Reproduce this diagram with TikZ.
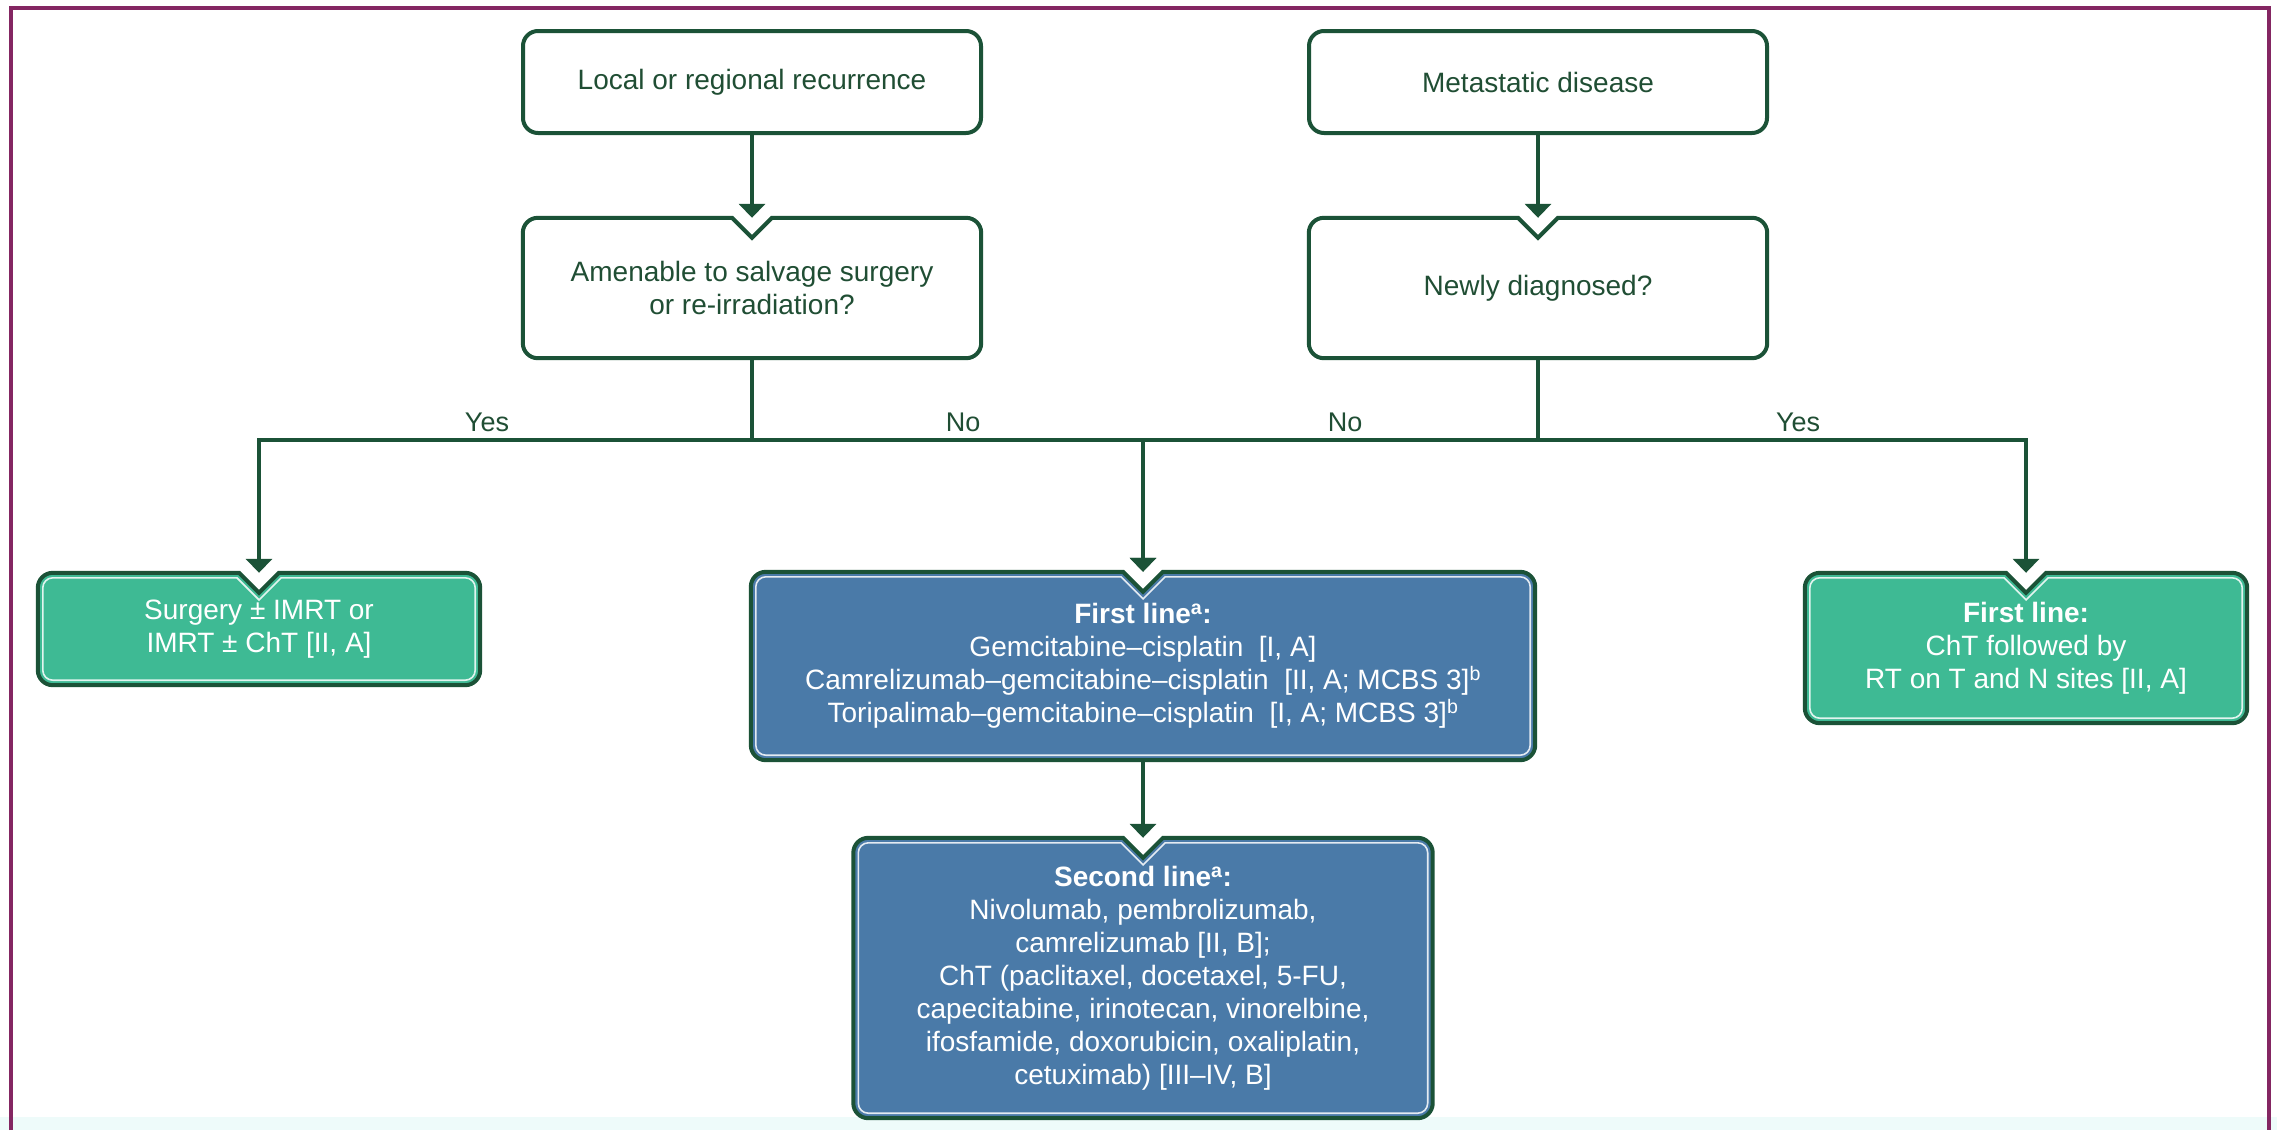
\documentclass[tikz,border=0pt]{standalone}
\usepackage{fontspec}
\setmainfont{Liberation Sans}
\usetikzlibrary{arrows.meta,calc}
\pgfdeclarelayer{background}
\pgfsetlayers{background,main}
\definecolor{dkgreen}{RGB}{27,82,55}
\definecolor{txtgreen}{RGB}{32,78,52}
\definecolor{tealbox}{RGB}{62,186,148}
\definecolor{bluebox}{RGB}{74,122,168}
\definecolor{framecol}{RGB}{132,38,98}
\definecolor{paleband}{RGB}{238,251,250}

% #1 node, #2 inset, #3 corner radius (numbers, in pt), #4 style
\newcommand\notchoutline[4]{%
  \path[#4] ([xshift={-(20+0.414*#2)*1pt},yshift={-#2*1pt}]#1.north)
    -- ([xshift={(#2+#3)*1pt},yshift={-#2*1pt}]#1.north west)
       arc[start angle=90,end angle=180,radius=#3pt]
    -- ([xshift={#2*1pt},yshift={(#2+#3)*1pt}]#1.south west)
       arc[start angle=180,end angle=270,radius=#3pt]
    -- ([xshift={-(#2+#3)*1pt},yshift={#2*1pt}]#1.south east)
       arc[start angle=270,end angle=360,radius=#3pt]
    -- ([xshift={-#2*1pt},yshift={-(#2+#3)*1pt}]#1.north east)
       arc[start angle=0,end angle=90,radius=#3pt]
    -- ([xshift={(20+0.414*#2)*1pt},yshift={-#2*1pt}]#1.north)
    -- ([yshift={-(20+1.414*#2)*1pt}]#1.north) -- cycle;}

\tikzset{
  tbox/.style={rectangle, inner sep=0pt, align=center, font=\fontsize{28}{33}\selectfont},
  plainbox/.style={tbox, draw=dkgreen, line width=4pt, rounded corners=15pt, fill=white, text=txtgreen},
  qbox/.style={tbox, text=txtgreen},
  cbox/.style={tbox, text=white},
  outer/.style={draw=dkgreen, line width=4pt, line join=miter},
  innerline/.style={draw=white, draw opacity=0.85, line width=1.6pt, line join=miter},
  conn/.style={draw=dkgreen, line width=3.5pt},
  arr/.style={conn, -{Triangle[width=26pt,length=14pt]}},
  lbl/.style={anchor=base, text=txtgreen, font=\fontsize{27}{32}\selectfont},
}

\begin{document}
\begin{tikzpicture}[x=1pt,y=-1pt]
\useasboundingbox (0,0) rectangle (2277,1130);
\begin{pgfonlayer}{background}
  \fill[white] (0,0) rectangle (2277,1130);
  \fill[paleband] (0,1117) rectangle (2277,1130);
  \draw[framecol, line width=4.5pt] (11,1130) -- (11,8) -- (2269,8) -- (2269,1130);
\end{pgfonlayer}

% top boxes
\node[plainbox, minimum width=458pt, minimum height=102pt] (b1) at (752,82) {Local or regional recurrence};
\node[plainbox, minimum width=458pt, minimum height=102pt] (b3) at (1538,82) {Metastatic disease};

% question boxes
\node[qbox, minimum width=458pt, minimum height=140pt] (b2) at (752,288) {Amenable to salvage surgery\\or re-irradiation?};
\node[qbox, minimum width=458pt, minimum height=140pt] (b4) at (1538,288) {Newly diagnosed?};

% result boxes
\node[cbox, minimum width=442pt, minimum height=112pt] (surg) at (259,629) {Surgery ± IMRT or\\IMRT ± ChT [II, A]};
\node[cbox, minimum width=784pt, minimum height=188pt] (first) at (1143,666)
  {\textbf{First line\textsuperscript{a}:}\\Gemcitabine–cisplatin\ \ [I, A]\\Camrelizumab–gemcitabine–cisplatin\ \ [II, A; MCBS 3]\textsuperscript{b}\\Toripalimab–gemcitabine–cisplatin\ \ [I, A; MCBS 3]\textsuperscript{b}};
\node[cbox, minimum width=442pt, minimum height=150pt] (rt) at (2026,648)
  {\textbf{First line:}\\ChT followed by\\RT on T and N sites [II, A]};
\node[cbox, minimum width=579pt, minimum height=280pt] (second) at (1143,978)
  {\textbf{Second line\textsuperscript{a}:}\\Nivolumab, pembrolizumab,\\camrelizumab [II, B];\\ChT (paclitaxel, docetaxel, 5-FU,\\capecitabine, irinotecan, vinorelbine,\\ifosfamide, doxorubicin, oxaliplatin,\\cetuximab) [III–IV, B]};

\begin{pgfonlayer}{background}
  \notchoutline{b2}{0}{15}{outer, fill=white}
  \notchoutline{b4}{0}{15}{outer, fill=white}
  \notchoutline{surg}{0}{15}{outer, fill=tealbox}
  \notchoutline{surg}{5}{10}{innerline}
  \notchoutline{rt}{0}{15}{outer, fill=tealbox}
  \notchoutline{rt}{5}{10}{innerline}
  \notchoutline{first}{0}{15}{outer, fill=bluebox}
  \notchoutline{first}{5}{10}{innerline}
  \notchoutline{second}{0}{15}{outer, fill=bluebox}
  \notchoutline{second}{5}{10}{innerline}
\end{pgfonlayer}

% connectors
\coordinate (hl) at (0,440);
\draw[arr] (b1.south) -- (b2.north);
\draw[arr] (b3.south) -- (b4.north);
\draw[conn] (b2.south) -- (b2.south |- hl) coordinate (j1);
\draw[conn] (b4.south) -- (b4.south |- hl) coordinate (j2);
\draw[arr] (j1) -| (surg.north);
\draw[arr] (j1) -| (first.north);
\draw[arr] (j2) -| (first.north);
\draw[arr] (j2) -| (rt.north);
\draw[arr] (first.south) -- (second.north);

% labels
\node[lbl] (yes1) at (487,431) {Yes};
\node[lbl] (no1) at (963,431) {No};
\node[lbl] (no2) at (1345,431) {No};
\node[lbl] (yes2) at (1798,431) {Yes};
\end{tikzpicture}
\end{document}
